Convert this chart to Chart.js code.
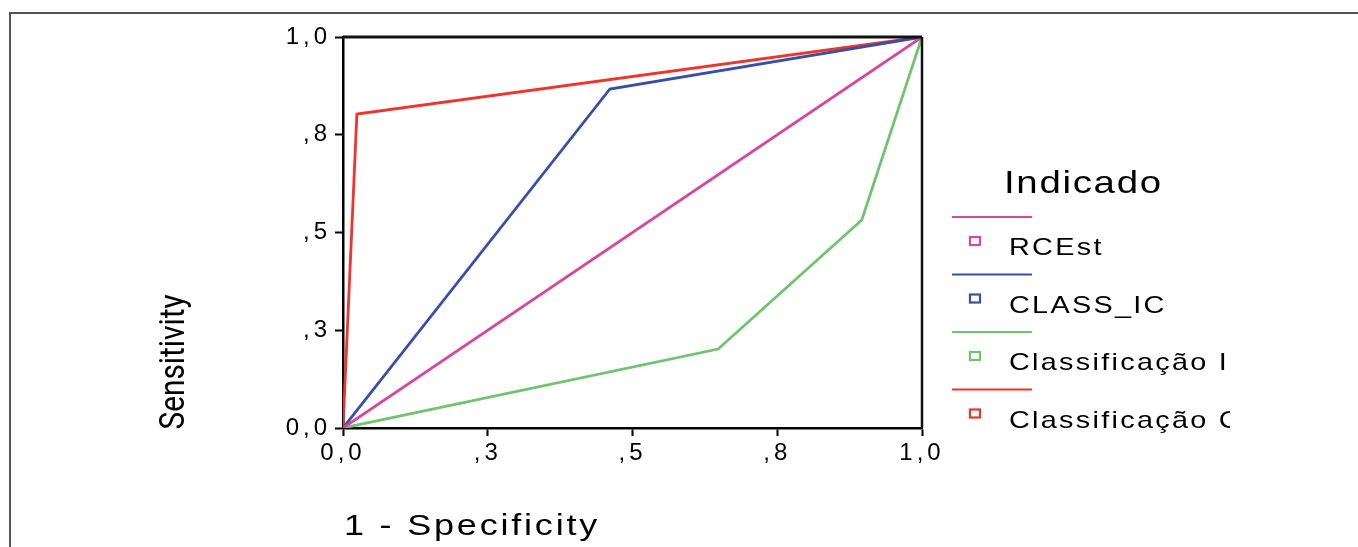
<!DOCTYPE html>
<html>
<head>
<meta charset="utf-8">
<script src="https://cdn.jsdelivr.net/npm/chart.js@4"></script>
<style>
  body { margin: 0; background: #fff; overflow: hidden; }
  #frame { position: absolute; left: 9px; top: 12px; width: 1400px; height: 600px; border: 2px solid #555; }
  #c { position: absolute; left: 0; top: 0; }
</style>
</head>
<body>
<div id="frame"></div>
<canvas id="c" width="1358" height="547"></canvas>
<script>
// tick labels as printed (SPSS rounding)
var tickLabels = ["0,0", ",3", ",5", ",8", "1,0"];
var tickValues = [0, 0.25, 0.5, 0.75, 1];

var seriesNames = ["RCEst", "CLASS_IC", "Classificação I", "Classificação C"];
var seriesColors = ["rgb(214,72,160)", "rgb(55,78,170)", "rgb(112,196,112)", "rgb(240,52,42)"];

// 1 - specificity / sensitivity pairs
var rcestX = [0, 1];
var rcestY = [0, 1];
var classIcX = [0, 0.461, 1];
var classIcY = [0, 0.867, 1];
var classIX = [0, 0.648, 0.896, 1];
var classIY = [0, 0.202, 0.532, 1];
var classCX = [0, 0.024, 1];
var classCY = [0, 0.803, 1];

function pts(xs, ys) {
    return xs.map(function(x, i) { return {x: x, y: ys[i]} })
}
var allX = [rcestX, classIcX, classIX, classCX];
var allY = [rcestY, classIcY, classIY, classCY];

var datasets = seriesNames.map(function(name, i) {
    return {
        label: name,
        data: pts(allX[i], allY[i]),
        showLine: true,
        borderColor: seriesColors[i],
        borderWidth: 2.8,
        pointRadius: 0,
        fill: false,
        tension: 0
    }
})

var spacing = {
    id: 'spacing',
    beforeLayout: function(chart) { chart.ctx.letterSpacing = '4px' },
    beforeDraw: function(chart) { chart.ctx.letterSpacing = '4px' }
}

// wide, slightly spaced text like the SPSS output
function wideText(ctx, text, x, y, size, sx, sp) {
    ctx.save();
    ctx.font = size + 'px "Liberation Sans", Arial, sans-serif';
    ctx.letterSpacing = (sp / sx) + 'px';
    ctx.textAlign = 'left';
    ctx.textBaseline = 'alphabetic';
    ctx.translate(x, y);
    ctx.scale(sx, 1);
    ctx.fillText(text, 0, 0);
    ctx.restore();
}

var extras = {
    id: 'extras',
    afterDraw: function(chart) {
        var ctx = chart.ctx;
        var a = chart.chartArea;
        ctx.save();
        // top and right frame of the plot
        ctx.strokeStyle = '#111';
        ctx.lineWidth = 3;
        ctx.beginPath();
        ctx.moveTo(a.left, a.top);
        ctx.lineTo(a.right, a.top);
        ctx.stroke();
        ctx.lineWidth = 2.5;
        ctx.beginPath();
        ctx.moveTo(a.right, a.top);
        ctx.lineTo(a.right, a.bottom);
        ctx.stroke();

        ctx.fillStyle = '#000';
        wideText(ctx, '1 - Specificity', 344, 535, 30, 1.2, 2.8);

        // y title, condensed
        ctx.letterSpacing = '0px';
        ctx.font = '35px Roboto, sans-serif';
        var w = ctx.measureText('Sensitivity').width;
        ctx.save();
        ctx.translate(184, 362);
        ctx.rotate(-Math.PI / 2);
        ctx.scale(135 / w, 1);
        ctx.textAlign = 'center';
        ctx.fillText('Sensitivity', 0, 0);
        ctx.restore();

        // legend, cut off on the right like the original
        ctx.save();
        ctx.beginPath();
        ctx.rect(940, 150, 290, 300);
        ctx.clip();
        wideText(ctx, 'Indicado', 1004, 193, 32, 1.2, 1.7);
        chart.data.datasets.forEach(function(ds, i) {
            var y0 = 217 + i * 57.5;
            ctx.strokeStyle = ds.borderColor;
            ctx.lineWidth = 2;
            ctx.beginPath();
            ctx.moveTo(952, y0);
            ctx.lineTo(1032, y0);
            ctx.stroke();
            ctx.lineWidth = 2.2;
            ctx.strokeRect(970, y0 + 20, 10, 8);
            ctx.fillStyle = '#000';
            wideText(ctx, ds.label, 1009, y0 + 38, 24, 1.2, 2.3);
        })
        ctx.restore();
        ctx.restore();
    }
}

var tickFont = { family: '"Liberation Sans", Arial, sans-serif', size: 24 };

new Chart(document.getElementById('c').getContext('2d'), {
    type: 'scatter',
    data: { datasets: datasets },
    plugins: [spacing, extras],
    options: {
        responsive: false,
        animation: false,
        layout: { padding: { left: 283, top: 37, right: 436, bottom: 69 } },
        plugins: { legend: { display: false }, tooltip: { enabled: false } },
        scales: {
            x: {
                type: 'linear', min: 0, max: 1,
                afterFit: function(s) { s.height = 50 },
                afterBuildTicks: function(s) { s.ticks = tickValues.map(function(v) { return {value: v} }) },
                ticks: {
                    color: '#000', font: tickFont, padding: 3, maxRotation: 0,
                    callback: function(v) { return tickLabels[tickValues.indexOf(v)] }
                },
                grid: { drawOnChartArea: false, drawTicks: true, tickLength: 8, tickColor: '#000', tickWidth: 2 },
                border: { color: '#000', width: 2.5 }
            },
            y: {
                type: 'linear', min: 0, max: 1,
                afterFit: function(s) { s.width = 60 },
                afterBuildTicks: function(s) { s.ticks = tickValues.map(function(v) { return {value: v} }) },
                ticks: {
                    color: '#000', font: tickFont, padding: 4,
                    callback: function(v) { return tickLabels[tickValues.indexOf(v)] }
                },
                grid: { drawOnChartArea: false, drawTicks: true, tickLength: 8, tickColor: '#000', tickWidth: 2 },
                border: { color: '#000', width: 2.5 }
            }
        }
    }
});
</script>
</body>
</html>
